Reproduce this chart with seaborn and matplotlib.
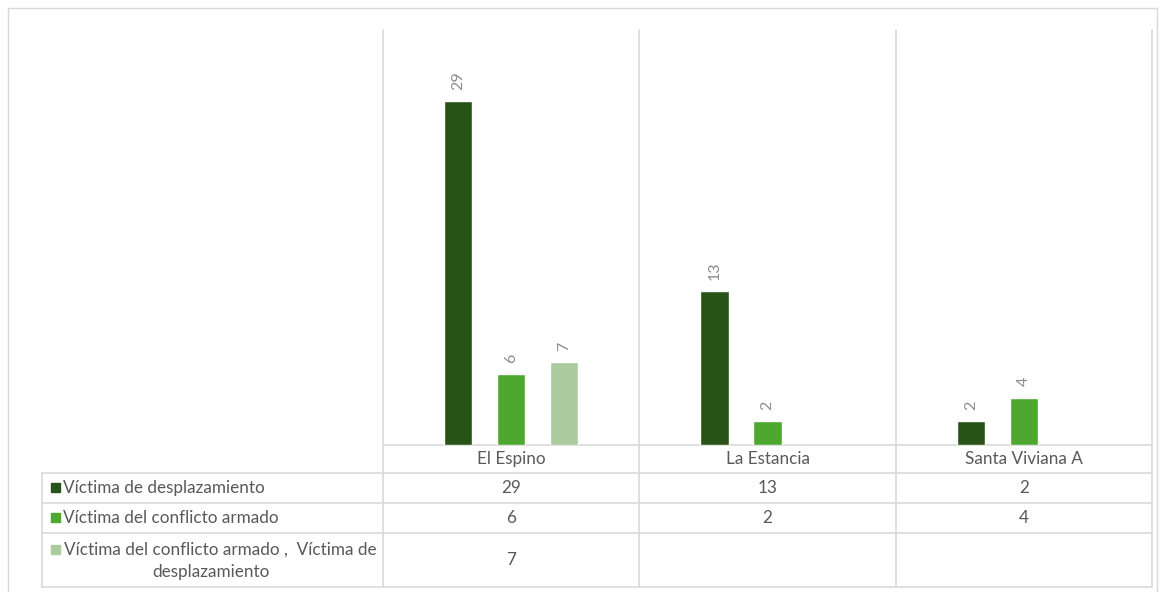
import pandas as pd
import matplotlib.pyplot as plt
import seaborn as sns

# data
categories = ["El Espino", "La Estancia", "Santa Viviana A"]
series = ["Víctima de desplazamiento",
          "Víctima del conflicto armado",
          "Víctima del conflicto armado ,  Víctima de desplazamiento"]
desplazamiento = [29, 13, 2]
conflicto = [6, 2, 4]
ambos = [7, None, None]
colors = ["#275317", "#4ea72e", "#abcb9f"]

GRID = "#d9d9d9"
TXT = "#595959"

sns.set_theme(style="white")
plt.rcParams['font.family'] = ['Lato', 'DejaVu Sans']

rows = []
for s, vals in zip(series, [desplazamiento, conflicto, ambos]):
    for c, v in zip(categories, vals):
        if v is not None:
            rows.append({"cat": c, "serie": s, "valor": v})
df = pd.DataFrame(rows)

W, H = 1161, 592
fig = plt.figure(figsize=(W / 100, H / 100), dpi=100)

# overlay axes in pixel units for the frame and data table
tab = fig.add_axes([0, 0, 1, 1], zorder=0)
tab.set_xlim(0, W)
tab.set_ylim(H, 0)
tab.axis("off")

px_l, px_r, px_t, px_b = 383, 1152, 30, 445
ax = fig.add_axes([px_l / W, 1 - px_b / H, (px_r - px_l) / W, (px_b - px_t) / H], zorder=1)
ax.patch.set_alpha(0)

sns.barplot(data=df, x="cat", y="valor", hue="serie", order=categories,
            hue_order=series, palette=colors, width=0.62, gap=0.47,
            dodge=True, ax=ax, legend=False, saturation=1)
ax.set_xlim(-0.5, len(categories) - 0.5)
ax.set_ylim(0, 35)
for cont in ax.containers:
    ax.bar_label(cont, fmt="%g", rotation=90, padding=8, color="#8c8c8c", fontsize=11.5)
for sp in ax.spines.values():
    sp.set_visible(False)
ax.set_xticks([])
ax.set_yticks([])
ax.set_xlabel("")
ax.set_ylabel("")

# outer frame
tab.plot([8, 8, 1157, 1157], [H, 8, 8, H], color=GRID, lw=1)

# category boundaries
step = (px_r - px_l) / len(categories)
xs = [px_l + i * step for i in range(len(categories) + 1)]
row_y = [445, 473, 503, 533, 587]
left = 42
for x in xs:
    tab.plot([x, x], [px_t, row_y[-1]], color=GRID, lw=1.2)
tab.plot([left, left], [row_y[1], row_y[-1]], color=GRID, lw=1.2)
tab.plot([px_l, px_r], [row_y[0], row_y[0]], color=GRID, lw=1.2)
for y in row_y[1:]:
    tab.plot([left, px_r], [y, y], color=GRID, lw=1.2)

fs = 12.3
for i, c in enumerate(categories):
    tab.text(px_l + (i + 0.5) * step, (row_y[0] + row_y[1]) / 2, c,
             ha="center", va="center", color=TXT, fontsize=fs)

for r, (s, vals, col) in enumerate(zip(series, [desplazamiento, conflicto, ambos], colors)):
    ymid = (row_y[r + 1] + row_y[r + 2]) / 2
    for i, v in enumerate(vals):
        if v is not None:
            tab.text(px_l + (i + 0.5) * step, ymid, str(v), ha="center", va="center",
                     color=TXT, fontsize=fs)
    if r < 2:
        tab.add_patch(plt.Rectangle((51, ymid - 5), 9, 9, color=col))
        tab.text(63, ymid, s, ha="left", va="center", color=TXT, fontsize=fs)
    else:
        tab.add_patch(plt.Rectangle((51, ymid - 15), 9, 9, color=col))
        tab.text(220, ymid - 10, "Víctima del conflicto armado ,  Víctima de",
                 ha="center", va="center", color=TXT, fontsize=fs)
        tab.text(211, ymid + 12, "desplazamiento", ha="center", va="center",
                 color=TXT, fontsize=fs)

fig.savefig("out.png", dpi=100)
